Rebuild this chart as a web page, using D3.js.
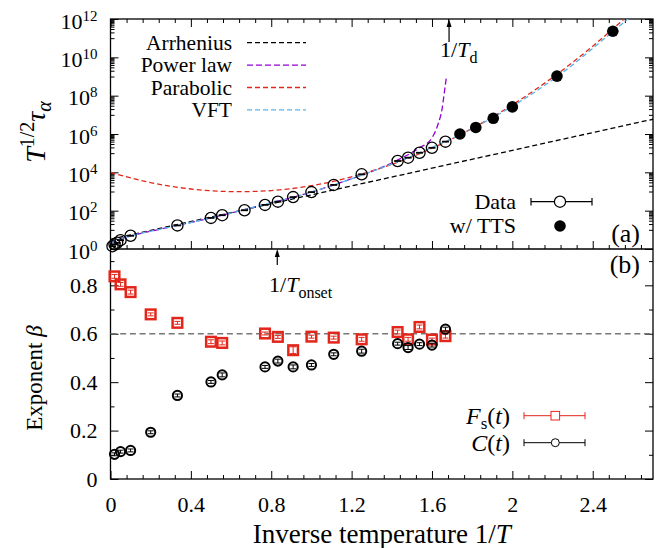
<!DOCTYPE html>
<html>
<head>
<meta charset="utf-8">
<script src="https://cdn.jsdelivr.net/npm/d3@7"></script>
<style>
  body { margin: 0; background: #fff; }
  svg text { font-family: "Liberation Serif", "Times New Roman", serif !important; fill: #000; }
</style>
</head>
<body>
<div id="vis"></div>
<script>
// ---- panel (a): relaxation time data ----
var invT = [0.01, 0.02, 0.033, 0.05, 0.1, 0.333, 0.5, 0.556, 0.667, 0.769, 0.833, 0.909,
            1.0, 1.111, 1.25, 1.429, 1.481, 1.538, 1.6, 1.667];
var tauData = [1.4, 1.75, 2.1, 2.9, 4.9, 17, 42, 58, 105, 200, 295, 510,
               930, 2.2e3, 7.9e3, 3.9e4, 5.8e4, 1.05e5, 1.9e5, 4.0e5];
var invTTTS = [1.739, 1.818, 1.905, 2.0, 2.222, 2.5];
var tauTTS = [1.0e6, 2.2e6, 6.6e6, 2.6e7, 1.05e9, 2.3e11];

// fitted curves
var arrX = [0, 2.7];
var arrY = [3.2, 5.9e6];
var powX = [0, 0.1, 0.25, 0.5, 0.75, 1.0, 1.2, 1.35, 1.45, 1.53, 1.6, 1.63, 1.65, 1.662, 1.672];
var powY = [2.2, 4.8, 11, 42, 190, 930, 4.6e3, 1.8e4, 5.6e4, 1.7e5, 6.3e5, 3.2e6, 2.0e7, 1.6e8, 1.0e9];
var parX = [0, 0.2, 0.4, 0.64, 0.8, 1.0, 1.2, 1.4, 1.6, 1.8, 2.0, 2.2, 2.4, 2.556];
var parY = [9.8e3, 2.9e3, 1.35e3, 980, 1.12e3, 2.0e3, 5.8e3, 2.6e4, 1.8e5, 1.95e6, 3.3e7, 8.9e8, 3.8e10, 1e12];
var vftX = [0, 0.1, 0.25, 0.333, 0.5, 0.75, 1.0, 1.25, 1.5, 1.75, 2.0, 2.25, 2.5, 2.58];
var vftY = [2.2, 4.8, 11, 17, 42, 190, 930, 7.1e3, 7.1e4, 1.05e6, 2.8e7, 1.6e9, 2.2e11, 1.1e12];

// ---- panel (b): stretching exponent ----
var betaX = [0.02, 0.05, 0.1, 0.2, 0.333, 0.5, 0.556, 0.769, 0.833, 0.909,
             1.0, 1.111, 1.25, 1.429, 1.481, 1.538, 1.6, 1.667];
var betaFs = [0.837, 0.804, 0.772, 0.680, 0.645, 0.567, 0.562, 0.601, 0.587, 0.532,
              0.588, 0.584, 0.577, 0.607, 0.577, 0.628, 0.576, 0.590];
var errFs = [0.008, 0.008, 0.008, 0.006, 0.006, 0.008, 0.008, 0.006, 0.006, 0.014,
             0.006, 0.006, 0.008, 0.008, 0.008, 0.008, 0.006, 0.008];
var betaC = [0.102, 0.113, 0.118, 0.193, 0.345, 0.401, 0.430, 0.463, 0.487, 0.463,
             0.471, 0.515, 0.528, 0.559, 0.543, 0.557, 0.553, 0.619];
var errC = [0.006, 0.006, 0.006, 0.006, 0.006, 0.006, 0.008, 0.006, 0.008, 0.008,
            0.006, 0.006, 0.008, 0.006, 0.008, 0.006, 0.008, 0.008];

// ticks
var xMajor = [0, 0.4, 0.8, 1.2, 1.6, 2.0, 2.4];
var xLabels = ['0', '0.4', '0.8', '1.2', '1.6', '2', '2.4'];
var yTopMajor = [1, 1e2, 1e4, 1e6, 1e8, 1e10, 1e12];
var yTopExp = ['0', '2', '4', '6', '8', '10', '12'];
var yBotMajor = [0, 0.2, 0.4, 0.6, 0.8];
var yBotMinor = [0.1, 0.3, 0.5, 0.7, 0.9];

var W = 672, H = 548;
var L = 110.5, R = 653, T1 = 19, M = 249, B = 479;
var RED = '#e3261b', PURPLE = '#9400d3', CYAN = '#56b4e9';
var SERIF = '"Liberation Serif", "Times New Roman", serif';

var svg = d3.select('#vis').append('svg')
  .attr('width', W)
  .attr('height', H)
  .attr('font-family', SERIF);

var x = d3.scaleLinear().domain([0, 2.7]).range([L, R]);
var yTop = d3.scaleLog().domain([1, 1e12]).range([M, T1]);
var yBot = d3.scaleLinear().domain([0, 0.95]).range([B, M]);

// minor tick positions
var xMinor = d3.range(0, 2.7, 0.08).filter(function (v) {
  return Math.abs(v / 0.4 - Math.round(v / 0.4)) > 0.01;
});
var yTopMinor = [];
[1, 3, 5, 7, 9, 11].forEach(function (e) {
  for (var k = 1; k <= 9; k++) yTopMinor.push(k * Math.pow(10, e));
});

function drawAxis(axis, tx, ty) {
  var g = svg.append('g')
    .attr('transform', 'translate(' + tx + ',' + ty + ')')
    .call(axis)
    .attr('font-family', SERIF);
  g.select('.domain').remove();
  g.selectAll('line').attr('stroke', '#000').attr('stroke-width', 1);
  g.selectAll('text').attr('font-size', 22).attr('fill', '#000');
  return g;
}

// top panel x ticks (bottom edge, pointing up; top edge, pointing down)
drawAxis(d3.axisBottom(x).tickValues(xMajor).tickSize(-8).tickSizeOuter(0).tickFormat(''), 0, M);
drawAxis(d3.axisBottom(x).tickValues(xMinor).tickSize(-4).tickSizeOuter(0).tickFormat(''), 0, M);
drawAxis(d3.axisTop(x).tickValues(xMajor).tickSize(-8).tickSizeOuter(0).tickFormat(''), 0, T1);
drawAxis(d3.axisTop(x).tickValues(xMinor).tickSize(-4).tickSizeOuter(0).tickFormat(''), 0, T1);

// bottom panel x axis with labels
drawAxis(d3.axisBottom(x).tickValues(xMajor).tickSize(-8).tickSizeOuter(0).tickPadding(17)
  .tickFormat(function (d, i) { return xLabels[i]; }), 0, B);
drawAxis(d3.axisBottom(x).tickValues(xMinor).tickSize(-4).tickSizeOuter(0).tickFormat(''), 0, B);

// top panel y axes (log)
var gTopY = drawAxis(d3.axisLeft(yTop).tickValues(yTopMajor).tickSize(-8).tickSizeOuter(0).tickPadding(13)
  .tickFormat(function () { return ''; }), L, 0);
gTopY.selectAll('.tick text').each(function (d, i) {
  var t = d3.select(this).attr('dy', '0.42em');
  t.append('tspan').text('10');
  t.append('tspan').attr('dy', '-0.55em').attr('font-size', 15).text(yTopExp[i]);
});
drawAxis(d3.axisLeft(yTop).tickValues(yTopMinor).tickSize(-4).tickSizeOuter(0).tickFormat(''), L, 0);
drawAxis(d3.axisRight(yTop).tickValues(yTopMajor).tickSize(-8).tickSizeOuter(0).tickFormat(''), R, 0);
drawAxis(d3.axisRight(yTop).tickValues(yTopMinor).tickSize(-4).tickSizeOuter(0).tickFormat(''), R, 0);

// bottom panel y axes
drawAxis(d3.axisLeft(yBot).tickValues(yBotMajor).tickSize(-8).tickSizeOuter(0).tickPadding(13)
  .tickFormat(function (d) { return d === 0 ? '0' : d3.format('.1f')(d); }), L, 0);
drawAxis(d3.axisLeft(yBot).tickValues(yBotMinor.filter(function (v) { return v < 0.95; }))
  .tickSize(-4).tickSizeOuter(0).tickFormat(''), L, 0);
drawAxis(d3.axisRight(yBot).tickValues(yBotMajor).tickSize(-8).tickSizeOuter(0).tickFormat(''), R, 0);
drawAxis(d3.axisRight(yBot).tickValues(yBotMinor.filter(function (v) { return v < 0.95; }))
  .tickSize(-4).tickSizeOuter(0).tickFormat(''), R, 0);

// frames
svg.append('rect')
  .attr('x', L).attr('y', T1).attr('width', R - L).attr('height', B - T1)
  .attr('fill', 'none').attr('stroke', '#000').attr('stroke-width', 1.3);
svg.append('line')
  .attr('x1', L).attr('x2', R).attr('y1', M).attr('y2', M)
  .attr('stroke', '#000').attr('stroke-width', 1.3);

// clip for top panel curves
svg.append('clipPath').attr('id', 'clipTop')
  .append('rect').attr('x', L).attr('y', T1).attr('width', R - L).attr('height', M - T1);

var topLine = d3.line()
  .x(function (d) { return x(d[0]); })
  .y(function (d) { return yTop(d[1]); })
  .curve(d3.curveMonotoneX);

var curves = [
  { name: 'Arrhenius', xs: arrX, ys: arrY, color: '#000', dash: '5,3' },
  { name: 'Power law', xs: powX, ys: powY, color: PURPLE, dash: '6,3' },
  { name: 'Parabolic', xs: parX, ys: parY, color: RED, dash: '5,3' },
  { name: 'VFT', xs: vftX, ys: vftY, color: CYAN, dash: '5,3' }
];

var gCurves = svg.append('g').attr('clip-path', 'url(#clipTop)');
curves.forEach(function (c) {
  gCurves.append('path')
    .datum(c.xs.map(function (v, i) { return [v, c.ys[i]]; }))
    .attr('d', topLine)
    .attr('fill', 'none')
    .attr('stroke', c.color)
    .attr('stroke-width', 1.3)
    .attr('stroke-dasharray', c.dash);
});

// open data circles
var openPts = invT.map(function (v, i) { return { x: v, y: tauData[i] }; });
svg.append('g').selectAll('circle')
  .data(openPts).enter().append('circle')
  .attr('cx', function (d) { return x(d.x); })
  .attr('cy', function (d) { return yTop(d.y); })
  .attr('r', 5.6)
  .attr('fill', 'none')
  .attr('stroke', '#000')
  .attr('stroke-width', 1.3);
svg.append('g').selectAll('line')
  .data(openPts).enter().append('line')
  .attr('x1', function (d) { return x(d.x) - 3.5; })
  .attr('x2', function (d) { return x(d.x) + 3.5; })
  .attr('y1', function (d) { return yTop(d.y); })
  .attr('y2', function (d) { return yTop(d.y); })
  .attr('stroke', '#000')
  .attr('stroke-width', 1.8);

// filled TTS circles
svg.append('g').selectAll('circle')
  .data(invTTTS).enter().append('circle')
  .attr('cx', function (d) { return x(d); })
  .attr('cy', function (d, i) { return yTop(tauTTS[i]); })
  .attr('r', 5.8)
  .attr('fill', '#000');

// top-left legend of fits
var legTop = svg.append('g');
curves.forEach(function (c, i) {
  var yy = 42.7 + i * 22.4;
  legTop.append('text')
    .attr('x', 232).attr('y', yy + 7)
    .attr('text-anchor', 'end')
    .attr('font-size', 21.5)
    .text(c.name);
  legTop.append('line')
    .attr('x1', 247).attr('x2', 306).attr('y1', yy).attr('y2', yy)
    .attr('stroke', c.color).attr('stroke-width', 1.3)
    .attr('stroke-dasharray', c.dash);
});

// top-right legend of data
var legData = svg.append('g');
legData.append('text').attr('x', 516).attr('y', 209).attr('text-anchor', 'end')
  .attr('font-size', 22).text('Data');
legData.append('line').attr('x1', 531).attr('x2', 592).attr('y1', 201.7).attr('y2', 201.7)
  .attr('stroke', '#000').attr('stroke-width', 1.2);
[531, 592].forEach(function (cx) {
  legData.append('line').attr('x1', cx).attr('x2', cx).attr('y1', 198).attr('y2', 205.4)
    .attr('stroke', '#000').attr('stroke-width', 1.2);
});
legData.append('circle').attr('cx', 560).attr('cy', 201.7).attr('r', 5.6)
  .attr('fill', '#fff').attr('stroke', '#000').attr('stroke-width', 1.3);
legData.append('text').attr('x', 516).attr('y', 233).attr('text-anchor', 'end')
  .attr('font-size', 22).text('w/ TTS');
legData.append('circle').attr('cx', 560).attr('cy', 226).attr('r', 5.8).attr('fill', '#000');

// panel tags
svg.append('text').attr('x', 640).attr('y', 242).attr('text-anchor', 'end')
  .attr('font-size', 26).text('(a)');
svg.append('text').attr('x', 640).attr('y', 273).attr('text-anchor', 'end')
  .attr('font-size', 26).text('(b)');

// arrows for 1/T_d and 1/T_onset
function arrow(px, yFrom, yTip) {
  svg.append('line').attr('x1', px).attr('x2', px).attr('y1', yFrom).attr('y2', yTip + 6)
    .attr('stroke', '#000').attr('stroke-width', 1.2);
  svg.append('path')
    .attr('d', 'M' + (px - 2.5) + ',' + (yTip + 8) + 'L' + px + ',' + yTip + 'L' + (px + 2.5) + ',' + (yTip + 8) + 'Z')
    .attr('fill', '#000');
}
arrow(x(1.685), 42, T1);
arrow(x(0.83), 265, M);

var tdLab = svg.append('text').attr('x', 440).attr('y', 57).attr('font-size', 22);
tdLab.append('tspan').text('1/');
tdLab.append('tspan').attr('font-style', 'italic').text('T');
tdLab.append('tspan').attr('dy', 6).attr('font-size', 16).text('d');

var toLab = svg.append('text').attr('x', 269).attr('y', 292).attr('font-size', 22);
toLab.append('tspan').text('1/');
toLab.append('tspan').attr('font-style', 'italic').text('T');
toLab.append('tspan').attr('dy', 6).attr('font-size', 16).text('onset');

// bottom panel: reference line at 0.6
svg.append('line')
  .attr('x1', L).attr('x2', R).attr('y1', yBot(0.6)).attr('y2', yBot(0.6))
  .attr('stroke', '#777').attr('stroke-width', 1.3).attr('stroke-dasharray', '6,3.7');

// error bars helper
function errBars(g, xs, vs, es, color) {
  xs.forEach(function (v, i) {
    var cx = x(v), y0 = yBot(vs[i] - es[i]), y1 = yBot(vs[i] + es[i]);
    g.append('line').attr('x1', cx).attr('x2', cx).attr('y1', y0).attr('y2', y1)
      .attr('stroke', color).attr('stroke-width', 1);
    [y0, y1].forEach(function (yy) {
      g.append('line').attr('x1', cx - 3).attr('x2', cx + 3).attr('y1', yy).attr('y2', yy)
        .attr('stroke', color).attr('stroke-width', 1);
    });
  });
}

var gFs = svg.append('g');
gFs.selectAll('rect')
  .data(betaX).enter().append('rect')
  .attr('x', function (d) { return x(d) - 4.8; })
  .attr('y', function (d, i) { return yBot(betaFs[i]) - 4.8; })
  .attr('width', 9.6).attr('height', 9.6)
  .attr('fill', 'none').attr('stroke', RED).attr('stroke-width', 2.5);
errBars(gFs, betaX, betaFs, errFs, RED);

var gC = svg.append('g');
gC.selectAll('circle')
  .data(betaX).enter().append('circle')
  .attr('cx', function (d) { return x(d); })
  .attr('cy', function (d, i) { return yBot(betaC[i]); })
  .attr('r', 4.6)
  .attr('fill', 'none').attr('stroke', '#000').attr('stroke-width', 2);
errBars(gC, betaX, betaC, errC, '#000');

// bottom legend
var legB = svg.append('g');
var fsText = legB.append('text').attr('x', 510).attr('y', 424).attr('text-anchor', 'end').attr('font-size', 24);
fsText.append('tspan').attr('font-style', 'italic').text('F');
fsText.append('tspan').attr('dy', 5).attr('font-size', 17).text('s');
fsText.append('tspan').attr('dy', -5).text('(');
fsText.append('tspan').attr('font-style', 'italic').text('t');
fsText.append('tspan').text(')');
var cText = legB.append('text').attr('x', 510).attr('y', 451).attr('text-anchor', 'end').attr('font-size', 24);
cText.append('tspan').attr('font-style', 'italic').text('C');
cText.append('tspan').text('(');
cText.append('tspan').attr('font-style', 'italic').text('t');
cText.append('tspan').text(')');

[[415.7, RED], [442.7, '#000']].forEach(function (row) {
  var yy = row[0], col = row[1];
  legB.append('line').attr('x1', 524).attr('x2', 585).attr('y1', yy).attr('y2', yy)
    .attr('stroke', col).attr('stroke-width', 1);
  [524, 585].forEach(function (cx) {
    legB.append('line').attr('x1', cx).attr('x2', cx).attr('y1', yy - 3.5).attr('y2', yy + 3.5)
      .attr('stroke', col).attr('stroke-width', 1);
  });
});
legB.append('rect').attr('x', 551).attr('y', 411.4).attr('width', 8.6).attr('height', 8.6)
  .attr('fill', '#fff').attr('stroke', RED).attr('stroke-width', 1);
legB.append('circle').attr('cx', 555.3).attr('cy', 442.7).attr('r', 4)
  .attr('fill', '#fff').attr('stroke', '#000').attr('stroke-width', 1);

// axis titles
svg.append('text')
  .attr('transform', 'translate(' + ((L + R) / 2) + ',543)')
  .attr('text-anchor', 'middle')
  .attr('font-size', 27)
  .call(function (t) {
    t.append('tspan').text('Inverse temperature 1/');
    t.append('tspan').attr('font-style', 'italic').text('T');
  });

svg.append('text')
  .attr('transform', 'translate(42,378) rotate(-90)')
  .attr('text-anchor', 'middle')
  .attr('font-size', 23)
  .call(function (t) {
    t.append('tspan').text('Exponent ');
    t.append('tspan').attr('font-style', 'italic').text('β');
  });

svg.append('text')
  .attr('transform', 'translate(45,132) rotate(-90)')
  .attr('text-anchor', 'middle')
  .attr('font-size', 28)
  .call(function (t) {
    t.append('tspan').attr('font-style', 'italic').text('T');
    t.append('tspan').attr('dy', -11).attr('font-size', 20).text('1/2');
    t.append('tspan').attr('dy', 11).attr('font-style', 'italic').text('τ');
    t.append('tspan').attr('dy', 6).attr('font-size', 20).attr('font-style', 'italic').text('α');
  });
</script>
</body>
</html>
